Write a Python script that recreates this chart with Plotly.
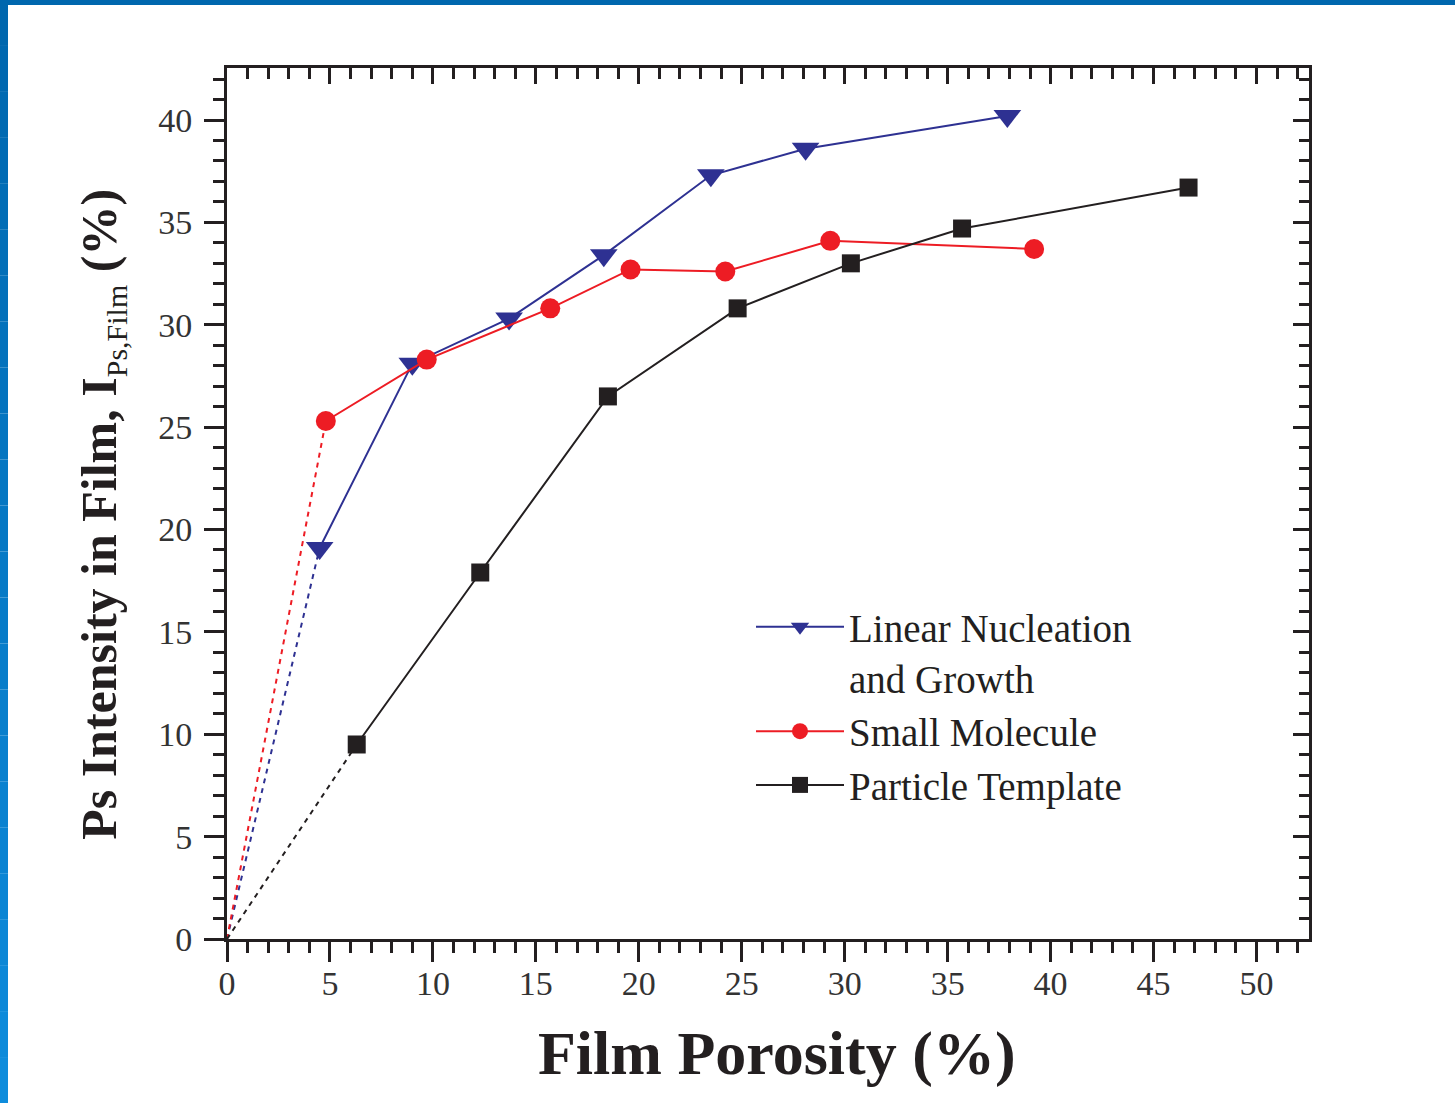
import plotly.graph_objects as go

# Film porosity (%) and Ps intensity in film (%) for the three pore-generation routes
lng_porosity = [4.5, 9.0, 13.7, 18.3, 23.5, 28.1, 37.9]
lng_intensity = [19.1, 28.1, 30.3, 33.4, 37.3, 38.6, 40.2]

sm_porosity = [4.8, 9.7, 15.7, 19.6, 24.2, 29.3, 39.2]
sm_intensity = [25.3, 28.3, 30.8, 32.7, 32.6, 34.1, 33.7]

pt_porosity = [6.3, 12.3, 18.5, 24.8, 30.3, 35.7, 46.7]
pt_intensity = [9.5, 17.9, 26.5, 30.8, 33.0, 34.7, 36.7]

# every curve is extrapolated back to the dense (non-porous) film
origin_porosity = 0.0
origin_intensity = 0.0

series = [
    ("Linear Nucleation<br>and Growth", lng_porosity, lng_intensity, "#2E3192", "triangle-down", 24),
    ("Small Molecule", sm_porosity, sm_intensity, "#ED1C24", "circle", 20),
    ("Particle Template", pt_porosity, pt_intensity, "#231F20", "square", 18),
]

X_RANGE = [0, 52.55]
Y_RANGE = [0, 42.54]
INK = "#231F20"
SERIF = "Liberation Serif"

fig = go.Figure()

# dashed extrapolation from the origin to the first measured film
for name, xs, ys, color, symbol, size in series:
    fig.add_trace(go.Scatter(
        x=[origin_porosity, xs[0]], y=[origin_intensity, ys[0]],
        mode="lines", line=dict(color=color, width=2, dash="5px,5px"),
        showlegend=False, hoverinfo="skip", cliponaxis=False,
    ))

for name, xs, ys, color, symbol, size in series:
    fig.add_trace(go.Scatter(
        x=xs, y=ys, name=name, mode="lines+markers",
        line=dict(color=color, width=2),
        marker=dict(symbol=symbol, size=size, color=color, line=dict(width=0)),
        cliponaxis=False,
    ))

# empty trace that carries the mirrored top/right axes
fig.add_trace(go.Scatter(x=[], y=[], xaxis="x2", yaxis="y2",
                         showlegend=False, hoverinfo="skip"))

tick_font = dict(family=SERIF, size=34, color="#333333")

fig.update_layout(
    width=1455, height=1103,
    margin=dict(l=227, r=146, t=68, b=164),
    paper_bgcolor="white", plot_bgcolor="white",
    font=dict(family=SERIF, color=INK),
    xaxis=dict(
        range=X_RANGE, showgrid=False, zeroline=False,
        showline=True, linecolor=INK, linewidth=3,
        ticks="outside", ticklen=20, tickwidth=3, tickcolor=INK,
        tick0=0, dtick=5, tickfont=tick_font, ticklabelstandoff=-8,
        minor=dict(ticks="outside", ticklen=11, tickwidth=3, tickcolor=INK, dtick=1, showgrid=False),
    ),
    yaxis=dict(
        range=Y_RANGE, showgrid=False, zeroline=False,
        showline=True, linecolor=INK, linewidth=3,
        ticks="outside", ticklen=20, tickwidth=3, tickcolor=INK,
        tick0=0, dtick=5, tickfont=tick_font, ticklabelstandoff=5,
        minor=dict(ticks="outside", ticklen=11, tickwidth=3, tickcolor=INK, dtick=1, showgrid=False),
    ),
    xaxis2=dict(
        overlaying="x", side="top", anchor="y2", range=X_RANGE,
        showgrid=False, zeroline=False, showticklabels=False,
        showline=True, linecolor=INK, linewidth=3,
        ticks="inside", ticklen=16, tickwidth=3, tickcolor=INK, tick0=0, dtick=5,
        minor=dict(ticks="inside", ticklen=11, tickwidth=3, tickcolor=INK, dtick=1, showgrid=False),
    ),
    yaxis2=dict(
        overlaying="y", side="right", anchor="x2", range=Y_RANGE,
        showgrid=False, zeroline=False, showticklabels=False,
        showline=True, linecolor=INK, linewidth=3,
        ticks="inside", ticklen=16, tickwidth=3, tickcolor=INK, tick0=0, dtick=5,
        minor=dict(ticks="inside", ticklen=10, tickwidth=3, tickcolor=INK, dtick=1, showgrid=False),
    ),
    legend=dict(
        x=(751 - 227) / 1082, y=0.395, xanchor="left", yanchor="top",
        bgcolor="rgba(0,0,0,0)", borderwidth=0,
        font=dict(family=SERIF, size=39, color=INK),
        itemwidth=88, valign="top", tracegroupgap=0,
    ),
    showlegend=True,
)

# axis titles
fig.add_annotation(
    text="<b>Film Porosity (%)</b>", xref="paper", yref="paper",
    x=0.508, y=-0.131, xanchor="center", yanchor="middle", showarrow=False,
    font=dict(family=SERIF, size=62, color=INK),
)
fig.add_annotation(
    text="<b>Ps Intensity in Film, I</b><sub><span style=\"font-size:30px\">Ps,Film</span></sub><b> (%)</b>",
    xref="paper", yref="paper", x=-0.1155, y=0.487, textangle=-90,
    xanchor="center", yanchor="middle", showarrow=False,
    font=dict(family=SERIF, size=50, color=INK),
)

# blue frame along the top and left page edges
px_w, px_h = 1082.0, 871.0
left0 = -227 / px_w
left1 = (8 - 227) / px_w
top1 = 1 + 68 / px_h
top0 = 1 + 63 / px_h
bottom = -164 / px_h
fig.add_shape(type="rect", xref="paper", yref="paper", x0=left0, x1=1 + 146 / px_w,
              y0=top0, y1=top1, fillcolor="#0067AE", line=dict(width=0), layer="above")
steps = 24
for i in range(steps):
    f = i / (steps - 1)
    r = int(0x00 + f * (0x0E - 0x00))
    g = int(0x67 + f * (0x8C - 0x67))
    b = int(0xAE + f * (0xDC - 0xAE))
    y_hi = top1 - (top1 - bottom) * i / steps
    y_lo = top1 - (top1 - bottom) * (i + 1) / steps
    fig.add_shape(type="rect", xref="paper", yref="paper", x0=left0, x1=left1,
                  y0=y_lo, y1=y_hi, fillcolor=f"rgb({r},{g},{b})",
                  line=dict(width=0), layer="above")

fig.write_html("out.html")
